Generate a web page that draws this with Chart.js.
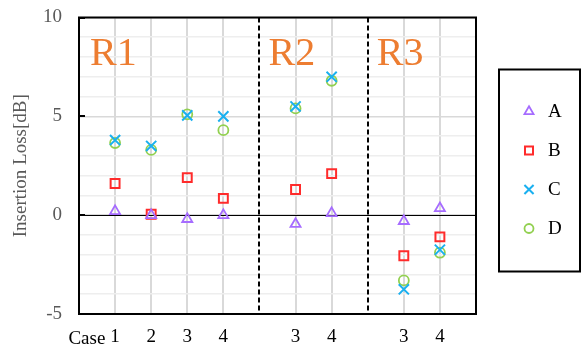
<!DOCTYPE html>
<html>
<head>
<meta charset="utf-8">
<script src="https://cdn.jsdelivr.net/npm/chart.js@4.4.0/dist/chart.umd.min.js"></script>
<style>
  html, body { margin: 0; padding: 0; background: #fff; }
  #wrap { width: 582px; height: 344px; }
</style>
</head>
<body>
<div id="wrap"><canvas id="c"></canvas></div>
<script>
// Case numbers along the x axis; blank slots are the gaps around each region
const categories = ['', '1', '2', '3', '4', '', '3', '4', '', '3', '4', ''];
const seriesNames = ['A', 'B', 'C', 'D'];
const seriesA = [null, 0.2, 0.0, -0.2, 0.0, null, -0.45, 0.1, null, -0.3, 0.35, null];
const seriesB = [null, 1.6, 0.05, 1.9, 0.85, null, 1.3, 2.1, null, -2.05, -1.1, null];
const seriesC = [null, 3.8, 3.5, 5.05, 5.0, null, 5.5, 7.0, null, -3.75, -1.75, null];
const seriesD = [null, 3.65, 3.3, 5.1, 4.3, null, 5.4, 6.8, null, -3.3, -1.9, null];
const yTickLabels = [-5, 0, 5, 10];
const regionNames = ['R1', 'R2', 'R3'];
const regionStarts = [0, 5, 8];   // category index at each region's left edge
const casePrefix = 'Case';
const yTitle = 'Insertion Loss[dB]';

const SERIF = "'Times New Roman', 'Liberation Serif', serif";
const FONT_SIZE = 19;

const styles = [
  { color: '#A66CFF', pointStyle: 'triangle', radius: 5.8, borderWidth: 1.8 },
  { color: '#FF2B2B', pointStyle: 'rect',     radius: 6.3, borderWidth: 2 },
  { color: '#1AB0F0', pointStyle: 'crossRot', radius: 7.2, borderWidth: 2 },
  { color: '#92D050', pointStyle: 'circle',   radius: 5,   borderWidth: 1.8 }
];
const seriesValues = [seriesA, seriesB, seriesC, seriesD];

const datasets = seriesNames.map((name, i) => ({
  label: name,
  data: seriesValues[i],
  showLine: false,
  pointStyle: styles[i].pointStyle,
  pointRadius: styles[i].radius,
  pointHoverRadius: styles[i].radius,
  pointBorderWidth: styles[i].borderWidth,
  borderColor: styles[i].color,
  backgroundColor: 'rgba(0,0,0,0)',
  pointBackgroundColor: 'rgba(0,0,0,0)'
}));

// Frame, zero line, region separators and region names
const decorations = {
  id: 'decorations',
  beforeDatasetsDraw(chart) {
    const { ctx, chartArea: a, scales: { x, y } } = chart;
    ctx.save();
    // zero line
    const y0 = Math.round(y.getPixelForValue(0)) + 0.5;
    ctx.strokeStyle = '#000';
    ctx.lineWidth = 1;
    ctx.beginPath();
    ctx.moveTo(a.left, y0);
    ctx.lineTo(a.right, y0);
    ctx.stroke();
    // dashed separators between regions
    ctx.lineWidth = 2;
    ctx.setLineDash([5, 3]);
    regionStarts.slice(1).forEach(idx => {
      const px = Math.round(x.getPixelForValue(idx));
      ctx.beginPath();
      ctx.moveTo(px, a.top);
      ctx.lineTo(px, a.bottom);
      ctx.stroke();
    });
    ctx.setLineDash([]);
    // frame
    ctx.lineWidth = 2;
    ctx.strokeRect(a.left, a.top, a.right - a.left, a.bottom - a.top);
    // short inner ticks on the left axis
    yTickLabels.forEach(v => {
      const py = Math.round(y.getPixelForValue(v));
      ctx.beginPath();
      ctx.moveTo(a.left, py);
      ctx.lineTo(a.left + 6, py);
      ctx.stroke();
    });
    // region names
    ctx.fillStyle = '#ED7D31';
    ctx.font = '40px ' + SERIF;
    ctx.textBaseline = 'alphabetic';
    ctx.textAlign = 'left';
    regionNames.forEach((name, i) => {
      const px = x.getPixelForValue(regionStarts[i]);
      ctx.fillText(name, px + (i === 0 ? 11 : 9), a.top + 47);
    });
    ctx.restore();
  },
  afterDraw(chart) {
    const { ctx, chartArea: a, scales: { x } } = chart;
    ctx.save();
    // "Case" prefix before the first case number
    ctx.font = FONT_SIZE + 'px ' + SERIF;
    ctx.fillStyle = '#000';
    ctx.textAlign = 'right';
    ctx.textBaseline = 'alphabetic';
    const firstIdx = categories.findIndex(c => c !== '');
    const px = x.getPixelForValue(firstIdx);
    const half = ctx.measureText(categories[firstIdx]).width / 2;
    ctx.fillText(casePrefix, px - half - 5, chart._labelBaseline || (a.bottom + 28));

    // legend box
    const bx = a.right + 23, by = a.top + 52, bw = 81, bh = 202;
    ctx.strokeStyle = '#000';
    ctx.lineWidth = 2;
    ctx.strokeRect(bx, by, bw, bh);
    chart.data.datasets.forEach((ds, i) => {
      const cy = by + 42 + i * 39;
      ctx.strokeStyle = ds.borderColor;
      ctx.fillStyle = 'rgba(0,0,0,0)';
      ctx.lineWidth = ds.pointBorderWidth;
      Chart.helpers.drawPoint(ctx, {
        pointStyle: ds.pointStyle,
        radius: ds.pointRadius * 0.9,
        borderWidth: ds.pointBorderWidth,
        rotation: 0
      }, bx + 30, cy);
      ctx.fillStyle = '#000';
      ctx.textAlign = 'left';
      ctx.textBaseline = 'middle';
      ctx.font = FONT_SIZE + 'px ' + SERIF;
      ctx.fillText(ds.label, bx + 49, cy + 1);
    });
    ctx.restore();
  }
};

// keep "Case" on the same baseline as the x tick labels
const baselineTracker = {
  id: 'baselineTracker',
  afterUpdate(chart) {
    const xs = chart.scales.x;
    const items = xs.getLabelItems ? xs.getLabelItems() : null;
    if (items && items.length) {
      const it = items.find(t => t.label !== '') || items[0];
      const ctx = chart.ctx;
      ctx.save();
      ctx.font = FONT_SIZE + 'px ' + SERIF;
      const m = ctx.measureText('1');
      ctx.restore();
      const yMid = it.options.translation[1];
      chart._labelBaseline = null;
      if (it.options.textBaseline === 'middle') {
        chart._labelBaseline = yMid + (m.actualBoundingBoxAscent - m.actualBoundingBoxDescent) / 2 + (it.textOffset || 0);
      } else if (it.options.textBaseline === 'top') {
        chart._labelBaseline = yMid + m.fontBoundingBoxAscent + (it.textOffset || 0);
      }
    }
  }
};

new Chart(document.getElementById('c'), {
  type: 'line',
  data: { labels: categories, datasets },
  options: {
    responsive: true,
    maintainAspectRatio: false,
    animation: false,
    layout: { padding: { left: 0, top: 17.5, right: 106, bottom: 0 } },
    plugins: { legend: { display: false }, tooltip: { enabled: false } },
    scales: {
      x: {
        type: 'category',
        offset: false,
        grid: {
          color: ctx => categories[ctx.index] ? '#d9d9d9' : 'rgba(0,0,0,0)',
          lineWidth: 2,
          drawTicks: false
        },
        border: { display: false },
        ticks: {
          autoSkip: false,
          maxRotation: 0,
          padding: 12,
          color: '#000',
          font: { family: SERIF, size: FONT_SIZE }
        },
        afterFit: s => { s.height = 30; s.paddingLeft = 0; s.paddingRight = 0; }
      },
      y: {
        type: 'linear',
        min: -5,
        max: 10,
        grid: {
          color: ctx => (ctx.tick && ctx.tick.value % 5 === 0) ? '#d9d9d9' : '#eeeeee',
          lineWidth: 1.6,
          drawTicks: false
        },
        border: { display: false },
        ticks: {
          stepSize: 1,
          maxTicksLimit: 40,
          autoSkip: false,
          padding: 17,
          color: '#595959',
          font: { family: SERIF, size: FONT_SIZE },
          callback: v => yTickLabels.includes(v) ? String(v) : ''
        },
        title: {
          display: true,
          text: yTitle,
          color: '#595959',
          font: { family: SERIF, size: FONT_SIZE },
          padding: { top: 10, bottom: 0 }
        },
        afterFit: s => { s.width = 79; s.paddingTop = 0; s.paddingBottom = 0; }
      }
    }
  },
  plugins: [decorations, baselineTracker]
});
</script>
</body>
</html>
